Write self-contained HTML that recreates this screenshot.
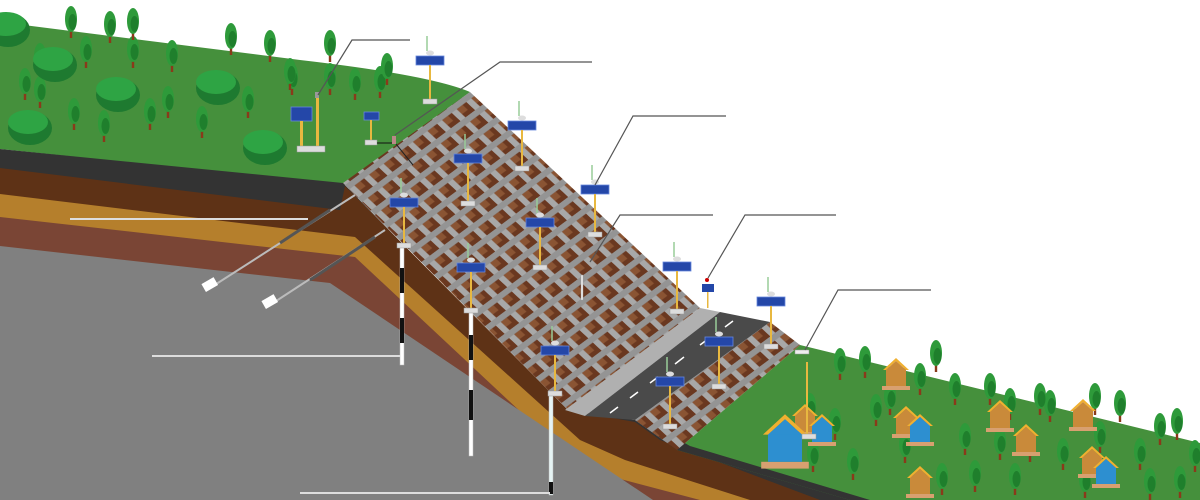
<!DOCTYPE html>
<html><head><meta charset="utf-8"><style>html,body{margin:0;padding:0;background:#fff;}svg{display:block}</style></head>
<body>
<svg width="1200" height="500" viewBox="0 0 1200 500" xmlns="http://www.w3.org/2000/svg">
<defs>
<pattern id="mesh" patternUnits="userSpaceOnUse" width="1" height="1" patternTransform="matrix(14.6,-10.9,13.3,12.4,345,185)">
<rect x="0" y="0" width="1" height="1" fill="#6a3820"/>
<rect x="0.34" y="0.34" width="0.4" height="0.4" fill="#8a5433"/>
<rect x="0" y="0" width="0.34" height="1" fill="#a8a8a8"/>
<rect x="0" y="0" width="1" height="0.34" fill="#949494"/>
</pattern>
<g id="tree"><rect x="-1.2" y="-12" width="2.4" height="12" fill="#8a3a1a"/><ellipse cx="0" cy="-19" rx="6" ry="13" fill="#2e9a3a"/><ellipse cx="1.5" cy="-16" rx="4" ry="8" fill="#1f7f2c"/></g>
<g id="bush"><ellipse cx="0" cy="0" rx="22" ry="17" fill="#1e7a30"/><ellipse cx="-2" cy="-6" rx="20" ry="12" fill="#2ea444"/></g>
<g id="head"><line x1="-3" y1="-20" x2="-3" y2="-5" stroke="#9c9" stroke-width="1.5"/><ellipse cx="0" cy="-3" rx="4" ry="2.5" fill="#ddd"/><rect x="-14" y="0" width="28" height="9" fill="#2447a8" stroke="#6688dd" stroke-width="0.8"/></g>
<g id="house"><rect x="-14" y="4" width="28" height="4" fill="#d8a070"/><rect x="-10" y="-14" width="20" height="18" fill="#c98a3a"/><polygon points="-13,-12 0,-24 13,-12 10,-12 0,-21 -10,-12" fill="#f0b030"/><polygon points="-10,-12 0,-21 10,-12" fill="#c98a3a"/></g>
<g id="bhouse"><rect x="-14" y="4" width="28" height="4" fill="#d8a070"/><rect x="-10" y="-14" width="20" height="18" fill="#2d8fd0"/><polygon points="-13,-12 0,-24 13,-12 10,-12 0,-21 -10,-12" fill="#f0b030"/><polygon points="-10,-12 0,-21 10,-12" fill="#2d8fd0"/></g>
</defs>

<path d="M0,22 L300,60 Q430,75 470,92 L345,185 L0,149 Z" fill="#45903c"/>
<polygon points="0,149 343,183 565,410 635,420 677,450 860,500 0,500" fill="#333"/>
<polygon points="0,168 340,210 345,186 568,410 635,422 660,440 820,500 0,500" fill="#5e3216"/>
<polygon points="0,194 355,237 580,440 625,460 750,500 0,500" fill="#b57f2c"/>
<polygon points="0,217 355,257 570,458 605,475 700,500 0,500" fill="#7a4535"/>
<polygon points="0,246 330,283 653,500 0,500" fill="#808080"/>
<polygon points="677,450 800,345 1200,443 1200,500 850,500" fill="#45903c"/>
<polygon points="635,420 677,450 850,500 870,500 690,446 640,418" fill="#333"/>
<polygon points="343,183 470,92 700,308 568,410" fill="url(#mesh)"/>
<polygon points="635,420 770,322 800,345 677,450" fill="url(#mesh)"/>
<polygon points="565,410 700,308 720,312 585,416" fill="#b0b0b0"/>
<polygon points="585,416 720,312 770,322 635,420" fill="#4a4a4a"/>
<g stroke="#fff" stroke-width="1.5">
<line x1="610" y1="413" x2="618" y2="407"/><line x1="630" y1="398" x2="638" y2="392"/><line x1="650" y1="383" x2="658" y2="377"/><line x1="675" y1="364" x2="684" y2="357"/><line x1="700" y1="345" x2="708" y2="339"/><line x1="725" y1="327" x2="733" y2="321"/>
</g>

<use href="#tree" x="71" y="38"/><use href="#tree" x="110" y="43"/><use href="#tree" x="133" y="68"/><use href="#tree" x="172" y="72"/><use href="#tree" x="231" y="55"/><use href="#tree" x="270" y="62"/><use href="#tree" x="292" y="95"/><use href="#tree" x="25" y="100"/><use href="#tree" x="86" y="68"/><use href="#tree" x="40" y="108"/><use href="#tree" x="74" y="130"/><use href="#tree" x="104" y="142"/><use href="#tree" x="150" y="130"/><use href="#tree" x="168" y="118"/><use href="#tree" x="202" y="138"/><use href="#tree" x="248" y="118"/><use href="#tree" x="290" y="90"/><use href="#tree" x="330" y="95"/><use href="#tree" x="355" y="100"/><use href="#tree" x="380" y="98"/><use href="#tree" x="387" y="85"/><use href="#tree" x="330" y="62"/><use href="#tree" x="40" y="75"/><use href="#tree" x="133" y="40"/>
<use href="#bush" x="55" y="65"/><use href="#bush" x="118" y="95"/><use href="#bush" x="218" y="88"/><use href="#bush" x="265" y="148"/><use href="#bush" x="30" y="128"/><use href="#bush" x="8" y="30"/>

<use href="#tree" x="840" y="380"/><use href="#tree" x="865" y="378"/><use href="#tree" x="920" y="395"/><use href="#tree" x="936" y="372"/><use href="#tree" x="955" y="405"/><use href="#tree" x="990" y="405"/><use href="#tree" x="1010" y="420"/><use href="#tree" x="1050" y="422"/><use href="#tree" x="1120" y="422"/><use href="#tree" x="1160" y="445"/><use href="#tree" x="1177" y="440"/><use href="#tree" x="810" y="425"/><use href="#tree" x="876" y="426"/><use href="#tree" x="905" y="463"/><use href="#tree" x="965" y="455"/><use href="#tree" x="1000" y="460"/><use href="#tree" x="1030" y="462"/><use href="#tree" x="1063" y="470"/><use href="#tree" x="1100" y="453"/><use href="#tree" x="1140" y="470"/><use href="#tree" x="1195" y="472"/><use href="#tree" x="813" y="472"/><use href="#tree" x="853" y="480"/><use href="#tree" x="942" y="495"/><use href="#tree" x="975" y="492"/><use href="#tree" x="1015" y="495"/><use href="#tree" x="1085" y="498"/><use href="#tree" x="1150" y="500"/><use href="#tree" x="1180" y="498"/><use href="#tree" x="1095" y="415"/><use href="#tree" x="890" y="415"/><use href="#tree" x="1040" y="415"/><use href="#tree" x="835" y="440"/>
<use href="#house" x="896" y="382"/><use href="#house" x="906" y="430"/><use href="#bhouse" x="920" y="438"/><use href="#house" x="1000" y="424"/><use href="#house" x="1026" y="448"/><use href="#house" x="1092" y="470"/><use href="#bhouse" x="1106" y="480"/><use href="#house" x="1083" y="423"/><use href="#house" x="920" y="490"/><use href="#house" x="805" y="428"/><use href="#bhouse" x="822" y="438"/>
<g transform="translate(785,455) scale(1.7)"><use href="#bhouse"/></g>

<g transform="translate(430,56)"><use href="#head"/><rect x="-1" y="9" width="2" height="34" fill="#e8b840"/><rect x="-7" y="43" width="14" height="5" fill="#ddd" stroke="#999" stroke-width=".5"/></g>
<g transform="translate(522,121)"><use href="#head"/><rect x="-1" y="9" width="2" height="36" fill="#e8b840"/><rect x="-7" y="45" width="14" height="5" fill="#ddd" stroke="#999" stroke-width=".5"/></g>
<g transform="translate(468,154)"><use href="#head"/><rect x="-1" y="9" width="2" height="38" fill="#e8b840"/><rect x="-7" y="47" width="14" height="5" fill="#ddd" stroke="#999" stroke-width=".5"/></g>
<g transform="translate(595,185)"><use href="#head"/><rect x="-1" y="9" width="2" height="38" fill="#e8b840"/><rect x="-7" y="47" width="14" height="5" fill="#ddd" stroke="#999" stroke-width=".5"/></g>
<g transform="translate(540,218)"><use href="#head"/><rect x="-1" y="9" width="2" height="38" fill="#e8b840"/><rect x="-7" y="47" width="14" height="5" fill="#ddd" stroke="#999" stroke-width=".5"/></g>
<g transform="translate(677,262)"><use href="#head"/><rect x="-1" y="9" width="2" height="38" fill="#e8b840"/><rect x="-7" y="47" width="14" height="5" fill="#ddd" stroke="#999" stroke-width=".5"/></g>
<g transform="translate(771,297)"><use href="#head"/><rect x="-1" y="9" width="2" height="38" fill="#e8b840"/><rect x="-7" y="47" width="14" height="5" fill="#ddd" stroke="#999" stroke-width=".5"/></g>
<g transform="translate(719,337)"><use href="#head"/><rect x="-1" y="9" width="2" height="38" fill="#e8b840"/><rect x="-7" y="47" width="14" height="5" fill="#ddd" stroke="#999" stroke-width=".5"/></g>
<g transform="translate(670,377)"><use href="#head"/><rect x="-1" y="9" width="2" height="38" fill="#e8b840"/><rect x="-7" y="47" width="14" height="5" fill="#ddd" stroke="#999" stroke-width=".5"/></g>
<rect x="400" y="245" width="4" height="120" fill="#fff" stroke="#bbb" stroke-width=".5"/><rect x="400" y="268" width="4" height="25" fill="#111"/><rect x="400" y="318" width="4" height="25" fill="#111"/>
<g transform="translate(404,198)"><use href="#head"/><rect x="-1" y="9" width="2" height="36" fill="#e8b840"/><rect x="-7" y="45" width="14" height="5" fill="#ddd" stroke="#999" stroke-width=".5"/></g>
<rect x="469" y="310" width="4" height="146" fill="#fff" stroke="#bbb" stroke-width=".5"/><rect x="469" y="335" width="4" height="25" fill="#111"/><rect x="469" y="390" width="4" height="30" fill="#111"/>
<g transform="translate(471,263)"><use href="#head"/><rect x="-1" y="9" width="2" height="36" fill="#e8b840"/><rect x="-7" y="45" width="14" height="5" fill="#ddd" stroke="#999" stroke-width=".5"/></g>
<rect x="549" y="395" width="4" height="100" fill="#e6f4f4" stroke="#bbb" stroke-width=".5"/><rect x="549" y="482" width="4" height="12" fill="#111"/>
<g transform="translate(555,346)"><use href="#head"/><rect x="-1" y="9" width="2" height="36" fill="#e8b840"/><rect x="-7" y="45" width="14" height="5" fill="#ddd" stroke="#999" stroke-width=".5"/></g>
<rect x="291" y="107" width="21" height="14" fill="#2447a8" stroke="#6688dd" stroke-width=".8"/><rect x="300" y="121" width="3" height="26" fill="#e8b840"/><rect x="316" y="95" width="3" height="52" fill="#e8b840"/><rect x="315" y="92" width="4" height="6" fill="#999"/><rect x="297" y="146" width="28" height="6" fill="#ddd" stroke="#999" stroke-width=".5"/>
<rect x="364" y="112" width="15" height="8" fill="#2447a8" stroke="#6688dd" stroke-width=".8"/><rect x="370" y="120" width="2" height="22" fill="#e8b840"/><rect x="365" y="140" width="12" height="5" fill="#ddd" stroke="#999" stroke-width=".5"/>
<line x1="377" y1="143" x2="393" y2="143" stroke="#111"/><rect x="392" y="136" width="4" height="8" fill="#b88"/><line x1="396" y1="144" x2="413" y2="165" stroke="#222"/>
<rect x="702" y="284" width="12" height="8" fill="#2447a8"/><circle cx="707" cy="280" r="2" fill="#c00"/><rect x="707" y="292" width="1.5" height="16" fill="#e8b840"/>
<rect x="795" y="350" width="14" height="4" fill="#eee" stroke="#999" stroke-width=".5"/><rect x="806" y="362" width="2" height="72" fill="#e8b840"/><rect x="802" y="434" width="14" height="5" fill="#ddd" stroke="#999" stroke-width=".5"/>
<rect x="581" y="275" width="2" height="25" fill="#eee" stroke="#999" stroke-width=".4"/>
<line x1="355" y1="195" x2="210" y2="288" stroke="#bbb" stroke-width="2"/><line x1="330" y1="210" x2="280" y2="243" stroke="#555" stroke-width="3"/><rect x="203" y="280" width="14" height="9" fill="#fff" transform="rotate(-30 210 285)"/>
<line x1="385" y1="230" x2="270" y2="305" stroke="#bbb" stroke-width="2"/><line x1="375" y1="237" x2="310" y2="280" stroke="#555" stroke-width="3"/><rect x="263" y="297" width="14" height="9" fill="#fff" transform="rotate(-30 270 302)"/>
<g fill="none" stroke="#555" stroke-width="1.2">
<polyline points="318,95 352,40 410,40"/>
<polyline points="395,135 500,62 592,62"/>
<polyline points="595,185 633,116 726,116"/>
<polyline points="590,262 620,215 713,215"/>
<polyline points="708,278 745,215 836,215"/>
<polyline points="805,350 838,290 931,290"/>
</g>
<g stroke="#ddd" stroke-width="2">
<line x1="70" y1="219" x2="308" y2="219"/><line x1="152" y1="356" x2="400" y2="356"/><line x1="300" y1="493" x2="550" y2="493"/>
</g>
</svg>
</body></html>
